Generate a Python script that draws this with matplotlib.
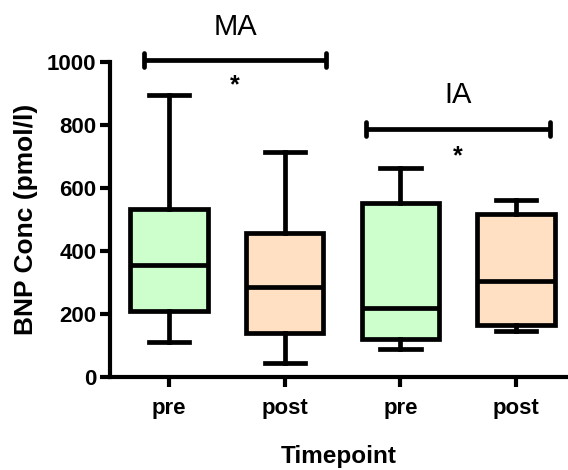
import numpy as np
import matplotlib.pyplot as plt

plt.rcParams['font.family'] = ['Liberation Sans', 'DejaVu Sans']

labels = ['pre', 'post', 'pre', 'post']
# five-number summaries: low whisker, Q1, median, Q3, high whisker
whislo = [112, 44, 89, 146]
q1 = [210, 140, 121, 165]
med = [355, 286, 219, 305]
q3 = [534, 458, 552, 517]
whishi = [895, 714, 663, 562]
colors = ['#ccffcc', '#ffe0c2', '#ccffcc', '#ffe0c2']

stats = []
for i in range(4):
    stats.append(dict(whislo=whislo[i], q1=q1[i], med=med[i], q3=q3[i],
                      whishi=whishi[i], fliers=[]))

fig = plt.figure(figsize=(5.68, 4.70), dpi=100)
ax = fig.add_axes([0.194, 0.198, 0.806, 0.670])

lw = 3.4
bp = ax.bxp(stats, positions=[1, 2, 3, 4], widths=0.67, patch_artist=True,
            showfliers=False,
            boxprops=dict(linewidth=lw, edgecolor='black'),
            medianprops=dict(linewidth=lw, color='black'),
            whiskerprops=dict(linewidth=lw, color='black'),
            capprops=dict(linewidth=lw, color='black'),
            capwidths=0.35)
for patch, c in zip(bp['boxes'], colors):
    patch.set_facecolor(c)

ax.set_xlim(0.49, 4.45)
ax.set_ylim(0, 1000)
ax.set_yticks([0, 200, 400, 600, 800, 1000])
ax.set_xticks([1, 2, 3, 4])
ax.set_xticklabels(labels)

for s in ['top', 'right']:
    ax.spines[s].set_visible(False)
for s in ['left', 'bottom']:
    ax.spines[s].set_linewidth(3)
ax.tick_params(width=3, length=7, labelsize=16, pad=3)
ax.tick_params(axis='x', pad=8)
for t in ax.get_xticklabels() + ax.get_yticklabels():
    t.set_fontweight('bold')

ax.set_ylabel('BNP Conc (pmol/l)', fontsize=19, fontweight='bold', labelpad=6)
ax.set_xlabel('Timepoint', fontsize=17.5, fontweight='bold', labelpad=19)

# significance brackets
def bracket(x0, x1, y, star_y, name, name_y):
    ax.plot([x0, x1], [y, y], color='black', lw=3.4, clip_on=False,
            solid_capstyle='butt')
    for x in (x0, x1):
        ax.plot([x, x], [y - 22, y + 22], color='black', lw=3.4,
                clip_on=False, solid_capstyle='round')
    ax.text((x0 + x1) / 2, star_y, '*', ha='center', va='center',
            fontsize=18, fontweight='bold')
    ax.text((x0 + x1) / 2, name_y, name, ha='center', va='center',
            fontsize=21, clip_on=False)

bracket(0.78, 2.36, 1006, 925, 'MA', 1110)
bracket(2.70, 4.29, 787, 700, 'IA', 895)

fig.savefig('out.png', dpi=100)
